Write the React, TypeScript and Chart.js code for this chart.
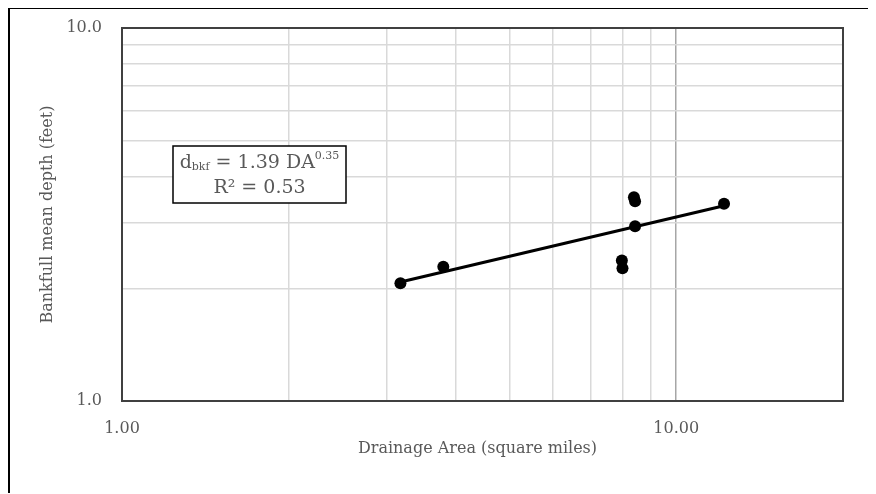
import React, { useEffect, useRef } from 'react';
import { Chart, registerables } from 'chart.js';

Chart.register(...registerables);

// ---- data ----
const drainageArea = [3.18, 3.8, 7.98, 8.0, 8.39, 8.43, 8.43, 12.2];
const meanDepth = [2.07, 2.29, 2.38, 2.27, 3.52, 3.43, 2.94, 3.38];
const trendCoef = 1.39;
const trendExp = 0.35;
const rSquaredText = '0.53';
const xGridValues = [1, 2, 3, 4, 5, 6, 7, 8, 9, 10, 20];
const yGridValues = [1, 2, 3, 4, 5, 6, 7, 8, 9, 10];
const xTickValues = [1, 10];
const xTickLabels = ['1.00', '10.00'];
const yTickValues = [1, 10];
const yTickLabels = ['1.0', '10.0'];
const xTitle = 'Drainage Area (square miles)';
const yTitle = 'Bankfull mean depth (feet)';

const FONT = '"DejaVu Serif", serif';
const TEXT = '#595959';

export default function App() {
  const ref = useRef<HTMLCanvasElement | null>(null);

  useEffect(() => {
    const canvas = ref.current;
    if (!canvas) return;

    const xMin = Math.min(...drainageArea);
    const xMax = Math.max(...drainageArea);
    const trend = [xMin, xMax].map((x) => ({ x, y: trendCoef * Math.pow(x, trendExp) }));

    const framePlugin = {
      id: 'frame',
      beforeDatasetsDraw(chart: any) {
        const { ctx, chartArea: a } = chart;
        ctx.save();
        ctx.strokeStyle = '#404040';
        ctx.lineWidth = 2;
        ctx.strokeRect(a.left, a.top, a.right - a.left, a.bottom - a.top);
        ctx.restore();
      },
      afterDraw(chart: any) {
        const { ctx, chartArea: a } = chart;
        ctx.save();
        // axis titles
        ctx.fillStyle = TEXT;
        ctx.font = `16px ${FONT}`;
        ctx.textAlign = 'center';
        ctx.textBaseline = 'middle';
        ctx.fillText(xTitle, (a.left + a.right) / 2 - 5, a.bottom + 48);
        ctx.save();
        ctx.translate(38, (a.top + a.bottom) / 2);
        ctx.rotate(-Math.PI / 2);
        ctx.fillText(yTitle, 0, 0);
        ctx.restore();

        // equation box
        const bx = a.left + 51;
        const by = a.top + 118;
        const bw = 173;
        const bh = 57;
        ctx.fillStyle = '#ffffff';
        ctx.fillRect(bx, by, bw, bh);
        ctx.strokeStyle = '#000000';
        ctx.lineWidth = 1.5;
        ctx.strokeRect(bx, by, bw, bh);

        const big = `19px ${FONT}`;
        const small = `11px ${FONT}`;
        const parts = [
          { t: 'd', f: big, dy: 0 },
          { t: 'bkf', f: small, dy: 4 },
          { t: ' = 1.39 DA', f: big, dy: 0 },
          { t: '0.35', f: small, dy: -7 },
        ];
        let total = 0;
        for (const p of parts) {
          ctx.font = p.f;
          total += ctx.measureText(p.t).width;
        }
        let cx = bx + bw / 2 - total / 2;
        const l1 = by + 17;
        ctx.fillStyle = TEXT;
        ctx.textAlign = 'left';
        ctx.textBaseline = 'middle';
        for (const p of parts) {
          ctx.font = p.f;
          ctx.fillText(p.t, cx, l1 + p.dy);
          cx += ctx.measureText(p.t).width;
        }
        ctx.font = big;
        ctx.textAlign = 'center';
        ctx.fillText(`R² = ${rSquaredText}`, bx + bw / 2, by + 42);
        ctx.restore();
      },
    };

    const gridColor = (ctx: any) =>
      ctx.tick && ctx.tick.value === 10 ? '#a6a6a6' : '#d9d9d9';

    const chart = new Chart(canvas, {
      type: 'scatter',
      data: {
        datasets: [
          {
            data: drainageArea.map((x, i) => ({ x, y: meanDepth[i] })),
            backgroundColor: '#000000',
            borderColor: '#000000',
            pointRadius: 6,
            pointBorderWidth: 0,
          },
          {
            data: trend,
            showLine: true,
            borderColor: '#000000',
            borderWidth: 3,
            pointRadius: 0,
          } as any,
        ],
      },
      options: {
        responsive: false,
        animation: false,
        layout: { padding: { left: 0, top: 19, right: 33, bottom: 0 } },
        plugins: { legend: { display: false }, tooltip: { enabled: false } },
        scales: {
          x: {
            type: 'logarithmic',
            min: 1,
            max: 20,
            afterBuildTicks(scale: any) {
              scale.ticks = xGridValues.map((v) => ({ value: v }));
            },
            afterFit(scale: any) {
              scale.height = 92;
              scale.paddingLeft = 0;
              scale.paddingRight = 0;
            },
            grid: { color: gridColor, lineWidth: 1.5, drawTicks: false },
            border: { display: false },
            ticks: {
              autoSkip: false,
              maxRotation: 0,
              padding: 18,
              color: TEXT,
              font: { family: FONT, size: 16 },
              callback: (v: any) => {
                const i = xTickValues.indexOf(Number(v));
                return i >= 0 ? xTickLabels[i] : '';
              },
            },
          },
          y: {
            type: 'logarithmic',
            min: 1,
            max: 10,
            afterBuildTicks(scale: any) {
              scale.ticks = yGridValues.map((v) => ({ value: v }));
            },
            afterFit(scale: any) {
              scale.width = 112;
              scale.paddingTop = 0;
              scale.paddingBottom = 0;
            },
            grid: { color: gridColor, lineWidth: 1.5, drawTicks: false },
            border: { display: false },
            ticks: {
              autoSkip: false,
              padding: 20,
              color: TEXT,
              font: { family: FONT, size: 16 },
              callback: (v: any) => {
                const i = yTickValues.indexOf(Number(v));
                return i >= 0 ? yTickLabels[i] : '';
              },
            },
          },
        },
      } as any,
      plugins: [framePlugin],
    });

    return () => chart.destroy();
  }, []);

  return (
    <div
      style={{
        position: 'relative',
        width: 868,
        height: 486,
        marginTop: -1,
        borderTop: '2px solid #000',
        borderLeft: '2px solid #000',
        boxSizing: 'border-box',
        overflow: 'hidden',
      }}
    >
      <canvas
        ref={ref}
        width={866}
        height={484}
        style={{ position: 'absolute', left: 0, top: 0, width: 866, height: 484 }}
      />
    </div>
  );
}
